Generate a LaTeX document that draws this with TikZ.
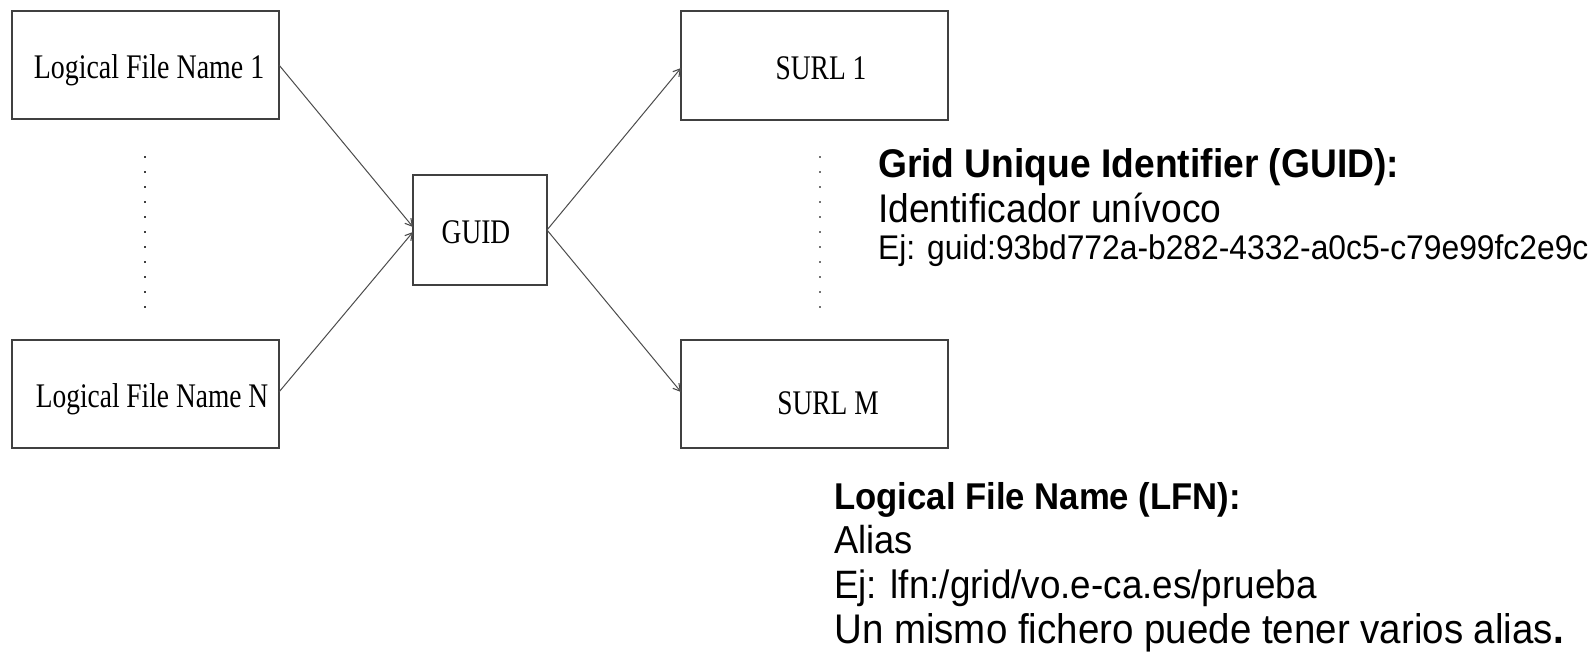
\documentclass[tikz,border=0pt]{standalone}
\usepackage{graphicx}
\usepackage{fontspec}
\setmainfont{Liberation Serif}
\newfontfamily\notefont{Liberation Sans}
\usetikzlibrary{arrows.meta,calc}

% narrow lettering for the box captions and the notes
\newcommand\narrow[1]{\scalebox{0.795}[1]{#1}}
\newcommand\slim[1]{\scalebox{0.93}[1]{#1}}

\tikzset{
  box/.style={draw=black!75, line width=1.4pt, fill=white, inner sep=0pt, outer sep=0pt,
              minimum width=267pt, minimum height=108pt},
  boxtext/.style={anchor=base, inner sep=0pt, font=\fontsize{34.5}{40}\selectfont},
  link/.style={draw=black!70, line width=1pt,
               -{Straight Barb[length=7pt,width=8pt,line width=1.1pt]}},
  ellipsis/.style={draw=black!75, line width=1.5pt, dash pattern=on 2pt off 13pt},
  note/.style={anchor=base west, inner sep=0pt, font=\notefont\fontsize{#1}{#1}\selectfont},
  note/.default=40,
}

\begin{document}
\begin{tikzpicture}[x=1pt, y=-1pt]
  \useasboundingbox[fill=white] (0,0) rectangle (1591,659);

  % boxes
  \node[box] (lfn1) at (145.5,65) {};
  \node[box] (lfnN) at (145.5,394) {};
  \node[box, minimum width=134pt, minimum height=110pt] (guid) at (480,230) {};
  \node[box, minimum height=109pt] (surl1) at (814.5,65.5) {};
  \node[box] (surlM) at (814.5,394) {};

  % box captions
  \node[boxtext] (lfn1t) at (149,78) {\scalebox{0.81}[1]{Logical File Name 1}};
  \node[boxtext] (lfnNt) at (152,407) {\narrow{Logical File Name N}};
  \node[boxtext] (guidt) at (476,243) {\narrow{GUID}};
  \node[boxtext] (surl1t) at (821,79) {\narrow{SURL 1}};
  \node[boxtext] (surlMt) at (828,414) {\narrow{SURL M}};

  % mappings
  \draw[link] (lfn1.east) -- ($(guid.west)+(0,-3)$);
  \draw[link] ($(lfnN.east)+(0,-2)$) -- ($(guid.west)+(0,2)$);
  \draw[link] (guid.east) -- ($(surl1.west)+(0,2.5)$);
  \draw[link] (guid.east) -- ($(surlM.west)+(0,-2)$);

  % vertical ellipses between first and last entries
  \draw[ellipsis] (145,156) -- (145,309);
  \draw[ellipsis, draw=black!55] (820,156) -- (820,309);

  % notes
  \node[note] (g1) at (878,177) {\slim{\bfseries Grid Unique Identifier (GUID):}};
  \node[note] (g2) at (878,222) {\slim{Identificador unívoco}};
  \node[note=34.2] (g3) at (878,259) {\slim{Ej: guid:93bd772a-b282-4332-a0c5-c79e99fc2e9c}};

  \node[note=37.3] (l1) at (834,509) {\slim{\bfseries Logical File Name (LFN):}};
  \node[note=39] (l2) at (834,553) {\slim{Alias}};
  \node[note=39.6] (l3) at (834,598) {\slim{Ej: lfn:/grid/vo.e-ca.es/prueba}};
  \node[note=41.4] (l4) at (834,643) {\slim{Un mismo fichero puede tener varios alias\textbf{.}}};
\end{tikzpicture}
\end{document}
